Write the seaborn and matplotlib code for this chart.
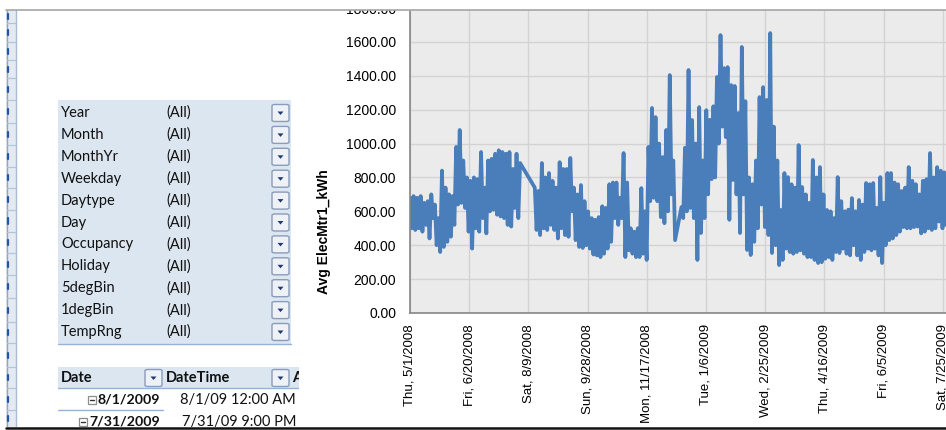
import matplotlib
matplotlib.use("Agg")
import matplotlib.pyplot as plt
import numpy as np
import pandas as pd
import seaborn as sns
from matplotlib.patches import Rectangle, FancyBboxPatch, Polygon
from matplotlib.lines import Line2D

# ---------------- data ----------------
seg_starts = ["2008-05-01 00:00", "2008-08-14 10:00", "2008-12-16 07:00"]
step_hours = 36

seg1_kwh = [680, 500, 690, 490, 680, 500, 690, 480, 650, 520, 660, 440, 700, 560, 640, 400,
            560, 360, 840, 390, 740, 420, 700, 450, 690, 520, 980, 640, 1080, 650, 900, 620,
            800, 480, 780, 380, 800, 500, 790, 480, 950, 560, 740, 470, 900, 600, 910, 610,
            940, 580, 960, 570, 950, 560, 940, 520, 950, 510, 850, 620, 940, 560, 885]
seg2_kwh = [740, 490, 720, 460, 885, 500, 800, 490, 826, 520, 780, 490, 740, 440, 890, 500,
            850, 460, 850, 450, 915, 600, 740, 430, 700, 390, 755, 384, 660, 400, 600, 380,
            560, 345, 550, 340, 566, 330, 630, 350, 620, 380, 760, 420, 770, 560, 770, 520,
            680, 560, 944, 330, 770, 370, 500, 350, 480, 330, 500, 330, 737, 350, 600, 313,
            980, 660, 1210, 680, 1156, 660, 1000, 566, 920, 530, 1080, 600, 1404, 700, 900, 430]
seg3_kwh = [625, 560, 975, 600, 1434, 620, 1139, 560, 1000, 313, 1215, 472, 900, 560, 1197, 700,
            1140, 790, 1220, 800, 1393, 1000, 1640, 1100, 1445, 1038, 1451, 550, 1345, 785, 1340, 700,
            1180, 472, 1570, 700, 1250, 372, 800, 342, 760, 420, 900, 500, 1274, 640, 1333, 507,
            1257, 460, 1652, 354, 1100, 400, 900, 283, 608, 313, 826, 380, 802, 360, 760, 350,
            740, 360, 991, 370, 743, 350, 700, 330, 650, 330, 903, 313, 800, 295, 861, 300,
            700, 320, 608, 330, 600, 313, 560, 360, 802, 354, 660, 380, 600, 350, 610, 340,
            678, 400, 600, 340, 667, 313, 640, 360, 767, 380, 760, 370, 767, 380, 620, 340,
            802, 295, 650, 400, 826, 430, 826, 440, 770, 460, 760, 480, 720, 507, 740, 500,
            861, 500, 780, 507, 760, 510, 700, 470, 780, 480, 790, 500, 944, 490, 800, 500,
            861, 540, 840, 500, 830, 520, 800, 520]

axis_start = "2008-05-01"
axis_days = 457
tick_every_days = 50
n_xticks = 10
y_ticks = [0, 200, 400, 600, 800, 1000, 1200, 1400, 1600, 1800]
y_label = "Avg ElecMtr1_kWh"

filter_fields = ["Year", "Month", "MonthYr", "Weekday", "Daytype", "Day",
                 "Occupancy", "Holiday", "5degBin", "1degBin", "TempRng"]
filter_values = ["(All)"] * len(filter_fields)
header_cols = ["Date", "DateTime", "A"]
row_dates = ["8/1/2009", "7/31/2009"]
row_times = ["8/1/09 12:00 AM", "7/31/09 9:00 PM"]

# ---------------- build frame ----------------
rows = []
for start, vals in zip(seg_starts, [seg1_kwh, seg2_kwh, seg3_kwh]):
    t0 = pd.Timestamp(start)
    for i, v in enumerate(vals):
        rows.append((t0 + pd.Timedelta(hours=step_hours * i), v))
df = pd.DataFrame(rows, columns=["DateTime", "kWh"])

sns.set_style("white")
plt.rcParams["font.family"] = ["Liberation Sans", "DejaVu Sans"]

W, H = 946, 430
fig = plt.figure(figsize=(W / 100, H / 100), dpi=100)
fig.patch.set_facecolor("white")


def fx(x):
    return x / W


def fy(y):
    return 1 - y / H


def prect(x0, y0, x1, y1, **kw):
    r = Rectangle((fx(x0), fy(y1)), (x1 - x0) / W, (y1 - y0) / H,
                  transform=fig.transFigure, **kw)
    fig.add_artist(r)
    return r


def pline(x0, y0, x1, y1, **kw):
    l = Line2D([fx(x0), fx(x1)], [fy(y0), fy(y1)], transform=fig.transFigure, **kw)
    fig.add_artist(l)
    return l


# ---------------- chart ----------------
ax = fig.add_axes([fx(410), fy(313), (951 - 410) / W, (313 - 8) / H])
ax.set_facecolor("#ebebeb")
sns.lineplot(data=df, x="DateTime", y="kWh", ax=ax, estimator=None, sort=False,
             color="#4a7ebb", linewidth=2.7)
t_start = pd.Timestamp(axis_start)
ax.set_xlim(t_start, t_start + pd.Timedelta(days=axis_days))
ax.set_ylim(y_ticks[0], y_ticks[-1])
ax.set_yticks(y_ticks)
ax.set_yticklabels([f"{v:.2f}" for v in y_ticks], fontsize=10, color="#000000")
xt = [t_start + pd.Timedelta(days=tick_every_days * k) for k in range(n_xticks)]
ax.set_xticks(xt)
ax.set_xticklabels([f"{d:%a}, {d.month}/{d.day}/{d.year}" for d in xt], rotation=90,
                   fontsize=9.5, color="#000000", ha="center", va="top")
ax.grid(True, color="#d3d3d3", linewidth=1.0)
ax.set_axisbelow(True)
for s in ["top", "right"]:
    ax.spines[s].set_visible(False)
for s in ["left", "bottom"]:
    ax.spines[s].set_color("#868686")
    ax.spines[s].set_linewidth(1.2)
ax.tick_params(axis="both", length=0)
ax.tick_params(axis="y", pad=10)
ax.tick_params(axis="x", pad=8)
ax.set_xlabel("")
ax.set_ylabel("")
fig.text(fx(324), fy(232), y_label, rotation=90, ha="center", va="center",
         fontsize=10, fontweight="bold", color="#000000")

# cover above the visible top edge of the screenshot
prect(0, -5, W, 10, facecolor="white", edgecolor="none", zorder=20)
pline(6, 10, W, 10, color="#a6a6a6", linewidth=1.2, zorder=21)

# ---------------- spreadsheet part ----------------
pv_font = ["Lato", "DejaVu Sans"]
pv_size = 10.5
txt_col = "#111111"

# left row-header strip
prect(6, 10, 15.5, 427, facecolor="#e4eaf2", edgecolor="none", zorder=2)
pline(6.5, 10, 6.5, 427, color="#9aa5b5", linewidth=1.0, zorder=3)
pline(15.5, 10, 15.5, 427, color="#a9bcd4", linewidth=1.0, zorder=3)
strip_rows = [23, 42, 60, 78, 100, 123, 145, 167, 188, 210, 232, 253, 275, 298, 322, 343, 367, 388, 410]
for yy in strip_rows:
    pline(6.5, yy, 15.5, yy, color="#b3c3d8", linewidth=0.9, zorder=3)
prev = 10
for yy in strip_rows + [427]:
    mid = (prev + yy) / 2
    pline(7.8, mid - 2.5, 7.8, mid + 2.5, color="#2356a8", linewidth=1.6, zorder=4)
    prev = yy


def dropdown(x0, y0):
    b = FancyBboxPatch((fx(x0), fy(y0 + 17)), 17 / W, 17 / H,
                       boxstyle="round,pad=0,rounding_size=0.003",
                       transform=fig.transFigure, facecolor="#eef1f6",
                       edgecolor="#8a9cb8", linewidth=1.0, zorder=5)
    fig.add_artist(b)
    cx, cy = x0 + 8.5, y0 + 8.5
    tri = Polygon([(fx(cx - 3), fy(cy - 1.5)), (fx(cx + 3), fy(cy - 1.5)), (fx(cx), fy(cy + 2))],
                  closed=True, transform=fig.transFigure, facecolor="#1f3a6e",
                  edgecolor="none", zorder=6)
    fig.add_artist(tri)


# filter area
prect(58, 100, 291, 344, facecolor="#dce6f1", edgecolor="none", zorder=2)
pline(58, 344, 291, 344, color="#95b3d7", linewidth=1.0, zorder=3)
for i, (f, v) in enumerate(zip(filter_fields, filter_values)):
    yc = 113 + 21.9 * i
    fig.text(fx(61), fy(yc), f, family=pv_font, fontsize=pv_size, color=txt_col,
             ha="left", va="center", zorder=6)
    fig.text(fx(166), fy(yc), v, family=pv_font, fontsize=pv_size, color=txt_col,
             ha="left", va="center", zorder=6)
    dropdown(272, yc - 8.5)

# header row
prect(58, 367, 299, 388, facecolor="#dce6f1", edgecolor="none", zorder=2)
pline(58, 388, 299, 388, color="#95b3d7", linewidth=1.0, zorder=3)
fig.text(fx(61), fy(378), header_cols[0], family=pv_font, fontsize=pv_size,
         fontweight="bold", color=txt_col, ha="left", va="center", zorder=6)
dropdown(145, 369.5)
fig.text(fx(166), fy(378), header_cols[1], family=pv_font, fontsize=pv_size,
         fontweight="bold", color=txt_col, ha="left", va="center", zorder=6)
dropdown(272, 369.5)
fig.text(fx(292), fy(378), header_cols[2], family=pv_font, fontsize=pv_size,
         fontweight="bold", color=txt_col, ha="left", va="center", zorder=6)
prect(299, 362, 330, 394, facecolor="white", edgecolor="none", zorder=7)


def minus_box(x0, yc):
    prect(x0, yc - 4, x0 + 8, yc + 4, facecolor="white", edgecolor="#8c8c8c",
          linewidth=0.9, zorder=6)
    pline(x0 + 2, yc, x0 + 6, yc, color="#333333", linewidth=1.0, zorder=7)


renderer = fig.canvas.get_renderer()
row_y = [400, 422]
time_x = [180, 182]
for d, t, yc, tx in zip(row_dates, row_times, row_y, time_x):
    dt_txt = fig.text(fx(160), fy(yc), d, family=pv_font, fontsize=10.2, fontweight="bold",
                      color=txt_col, ha="right", va="center", zorder=6)
    bb = dt_txt.get_window_extent(renderer=renderer)
    left_px = bb.x0 * W / fig.bbox.width
    minus_box(left_px - 10, yc)
    fig.text(fx(tx), fy(yc), t, family=pv_font, fontsize=pv_size, color=txt_col,
             ha="left", va="center", zorder=6)
pline(58, 410, 163, 410, color="#95b3d7", linewidth=1.0, zorder=3)

# bottom edge of the screenshot
prect(0, 427, W, 435, facecolor="white", edgecolor="none", zorder=20)
pline(6, 427.5, W, 427.5, color="#111111", linewidth=1.8, zorder=21)

fig.savefig("out.png", dpi=100, facecolor="white")
